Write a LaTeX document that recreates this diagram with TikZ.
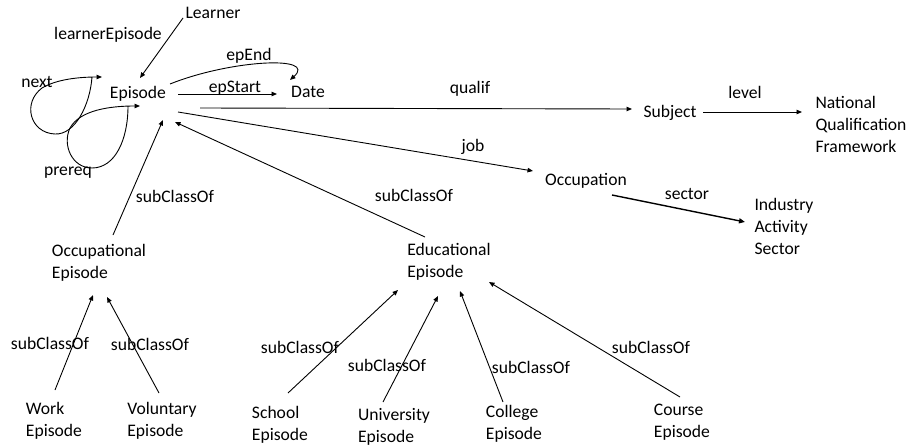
\documentclass[tikz,border=0pt]{standalone}
\usepackage{fontspec}
\setmainfont{Carlito}
\usetikzlibrary{arrows.meta}
\begin{document}
\begin{tikzpicture}[x=1pt,y=-1pt,
  every node/.style={inner sep=0pt,font=\fontsize{17.6}{22}\selectfont},
  lbl/.style={},
  cls/.style={align=left},
  arr/.style={line width=0.9pt,-{Triangle[length=5.5pt,width=4.5pt]}},
  thickarr/.style={line width=1.4pt,-{Triangle[length=6pt,width=5pt]}}]
\useasboundingbox[fill=white] (0,0) rectangle (911,447);
% class nodes
\node[cls] (episode) at (138,94) {Episode};
\node[cls] (learner) at (213,13) {Learner};
\node[cls] (date) at (308,92) {Date};
\node[cls] (subject) at (670,113) {Subject};
\node[cls] (nqf) at (861,124) {National\\Qualification\\Framework};
\node[cls] (occupation) at (586,181) {Occupation};
\node[cls] (ias) at (784,226) {Industry\\Activity\\Sector};
\node[cls] (occep) at (99,263) {Occupational\\Episode};
\node[cls] (eduep) at (449,262) {Educational\\Episode};
\node[cls] (work) at (54,421) {Work\\Episode};
\node[cls] (vol) at (162,421) {Voluntary\\Episode};
\node[cls] (school) at (280,425) {School\\Episode};
\node[cls] (univ) at (394,427) {University\\Episode};
\node[cls] (college) at (514,424) {College\\Episode};
\node[cls] (course) at (682,422) {Course\\Episode};
% labels
\node[lbl] (lLE) at (108,35) {learnerEpisode};
\node[lbl] (lEnd) at (249,56) {epEnd};
\node[lbl] (lStart) at (235,88) {epStart};
\node[lbl] (lNext) at (37,82) {next};
\node[lbl] (lPre) at (68,173) {prereq};
\node[lbl] (lQual) at (470,89) {qualif};
\node[lbl] (lLevel) at (745,92) {level};
\node[lbl] (lJob) at (473,147) {job};
\node[lbl] (lSector) at (687,194) {sector};
\node[lbl] (s1) at (175,196) {subClassOf};
\node[lbl] (s2) at (414,195) {subClassOf};
\node[lbl] (s3) at (50,343) {subClassOf};
\node[lbl] (s4) at (150,344) {subClassOf};
\node[lbl] (s5) at (300,347) {subClassOf};
\node[lbl] (s6) at (387,365) {subClassOf};
\node[lbl] (s7) at (531,367) {subClassOf};
\node[lbl] (s8) at (651,347) {subClassOf};
% connectors
\draw[arr] ([shift={(-30,5)}]learner.center) -- ([shift={(2,-16)}]episode.center);
\draw[arr] ([shift={(32,-10)}]episode.center) .. controls (230,60) and (318,55) .. ([shift={(-18,-12)}]date.center);
\draw[arr] ([shift={(40,0)}]episode.center) -- ([shift={(-31,2)}]date.center);
\draw[arr] ([shift={(62,14)}]episode.center) -- ([shift={(-38,-4)}]subject.center);
\draw[arr] ([shift={(33,-1)}]subject.center) -- ([shift={(-59,-12)}]nqf.center);
\draw[arr] ([shift={(40,18)}]episode.center) -- ([shift={(-53,-10)}]occupation.center);
\draw[thickarr] ([shift={(26,14)}]occupation.center) -- ([shift={(-39,-4)}]ias.center);
\draw[arr] ([shift={(14,-28)}]occep.center) -- ([shift={(25,26)}]episode.center);
\draw[arr] ([shift={(-24,-25)}]eduep.center) -- ([shift={(37,28)}]episode.center);
\draw[arr] ([shift={(1,-31)}]work.center) -- ([shift={(-6,32)}]occep.center);
\draw[arr] ([shift={(-3,-28)}]vol.center) -- ([shift={(8,34)}]occep.center);
\draw[arr] ([shift={(8,-32)}]school.center) -- ([shift={(-51,28)}]eduep.center);
\draw[arr] ([shift={(-11,-25)}]univ.center) -- ([shift={(-11,34)}]eduep.center);
\draw[arr] ([shift={(-11,-22)}]college.center) -- ([shift={(11,29)}]eduep.center);
\draw[arr] ([shift={(-2,-25)}]course.center) -- ([shift={(40,20)}]eduep.center);
% self loops on Episode
\draw[arr] ([shift={(-46,-17)}]episode.center) .. controls (90,105) and (75,135) .. (55,134)
  .. controls (30,133) and (22,103) .. (42,88)
  .. controls (57,79) and (80,77) .. ([shift={(-36,-17)}]episode.center);
\draw[arr] ([shift={(-10,12)}]episode.center) .. controls (128,140) and (115,168) .. (92,168)
  .. controls (72,168) and (62,145) .. (70,128)
  .. controls (80,110) and (110,106) .. ([shift={(2,12)}]episode.center);
\end{tikzpicture}
\end{document}
